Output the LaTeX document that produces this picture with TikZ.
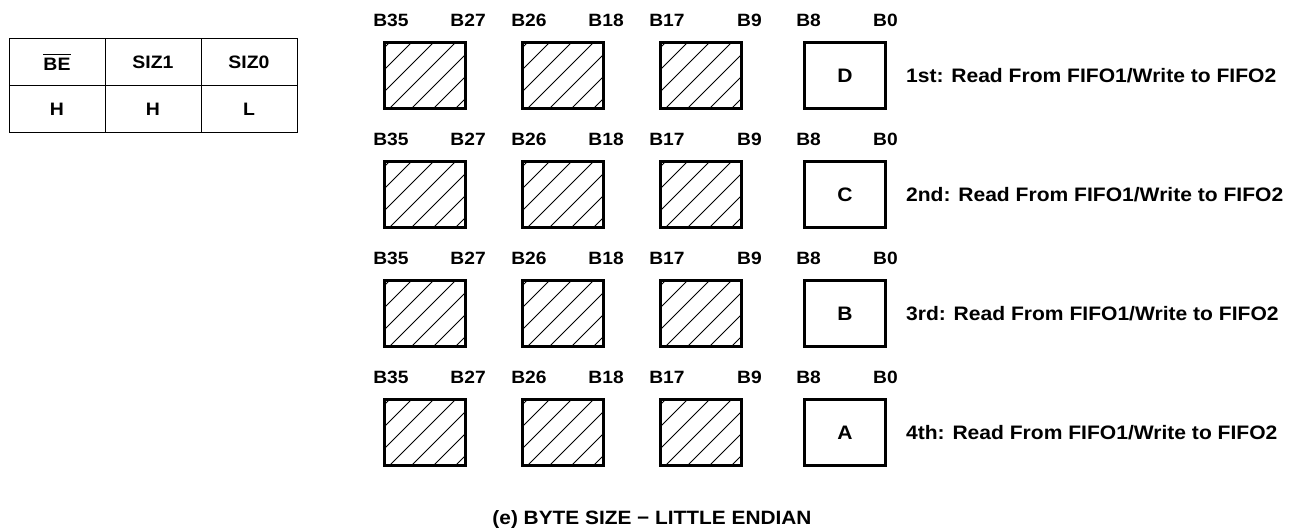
\documentclass[tikz,border=0pt]{standalone}
\usepackage{fontspec}
\setmainfont{Liberation Sans}[FakeStretch=1.08]
\usetikzlibrary{positioning,calc}
\newcommand\bitfont{\fontsize{17.8}{21}\selectfont}
\newcommand\rowfont{\fontsize{19.5}{23}\selectfont}
\newcommand\cellfont{\fontsize{18}{21}\selectfont}
\newcommand\barred[1]{\setbox0\hbox{#1}\rlap{\rule[\dimexpr\ht0+2.5pt\relax]{\wd0}{1.6pt}}\box0}
\tikzset{
  cell/.style={draw, line width=0.7pt, minimum width=96pt, minimum height=47pt,
    inner sep=0pt, outer sep=0pt, font=\bfseries\cellfont},
  byte/.style={draw, line width=2.8pt, minimum width=81pt, minimum height=66pt,
    inner sep=0pt, font=\bfseries\rowfont},
  hatched/.style={byte, path picture={
    \foreach \k in {-61,-39,...,71}
      \draw[line width=0.8pt] ($(path picture bounding box.south west)+(\k,0)$) -- ++(90,-90);
  }},
  bitlbl/.style={inner sep=0pt, font=\bfseries\bitfont},
}

\begin{document}
\begin{tikzpicture}[x=1pt,y=-1pt,font=\bfseries]
  \useasboundingbox (0,0) rectangle (1291,529);
  % ---- mode table ----
  \node[cell] (be) at (57,62) {\barred{BE}};
  \node[cell,right=0pt of be] (siz1) {SIZ1};
  \node[cell,right=0pt of siz1] (siz0) {SIZ0};
  \node[cell,below=0pt of be] (beval) {H};
  \node[cell,below=0pt of siz1] (siz1val) {H};
  \node[cell,below=0pt of siz0] (siz0val) {L};
  % ---- byte lanes, one row per transfer ----
  \foreach \r/\y/\lt/\ord in {1/75.5/D/1st, 2/194.5/C/2nd, 3/313.5/B/3rd, 4/432.5/A/4th}{
    \foreach \c/\x/\hi/\lo in {1/425/B35/B27, 2/563/B26/B18, 3/701/B17/B9}{
      \node[hatched] (b\r\c) at (\x,\y) {};
      \node[bitlbl, above right=14pt and -10pt of b\r\c.north west] (hi\r\c) {\hi};
      \node[bitlbl, above left=14pt and -19pt of b\r\c.north east] (lo\r\c) {\lo};
    }
    \node[byte] (b\r4) at (845,\y) {\lt};
    \node[bitlbl, above right=14pt and -7pt of b\r4.north west] (hi\r4) {B8};
    \node[bitlbl, above left=14pt and -11pt of b\r4.north east] (lo\r4) {B0};
    \node[right=19pt of b\r4, inner sep=0pt, font=\bfseries\rowfont] (op\r) {\ord: Read From FIFO1/Write to FIFO2};
  }
  % ---- caption ----
  \node[font=\bfseries\fontsize{19.3}{23}\selectfont] (cap) at (652,520) {(e) BYTE SIZE \char"2212{} LITTLE ENDIAN};
\end{tikzpicture}
\end{document}
